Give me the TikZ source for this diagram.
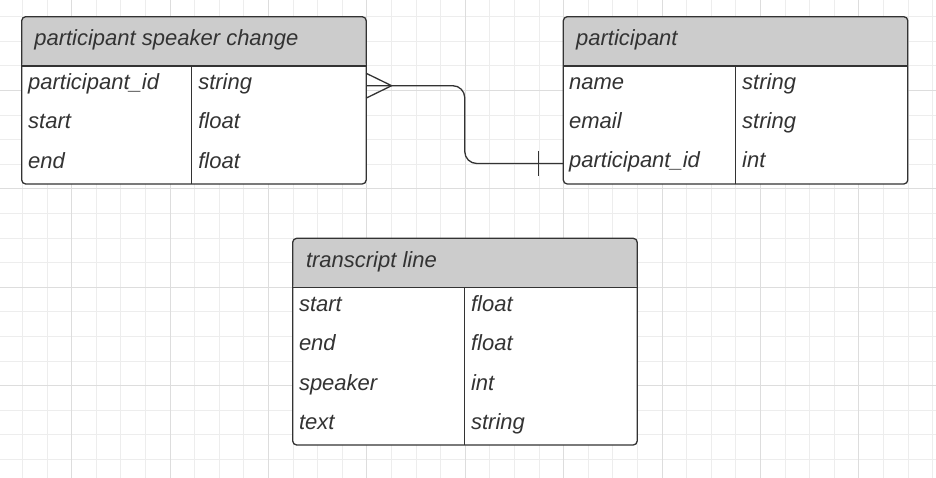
\documentclass[tikz,border=0pt]{standalone}
\usepackage{fontspec}
\setmainfont{Liberation Sans}
\usetikzlibrary{calc}
\definecolor{gridminor}{HTML}{EDEDED}
\definecolor{gridmajor}{HTML}{DDDDDD}
\definecolor{ink}{HTML}{333333}
\definecolor{hdr}{HTML}{CCCCCC}
\tikzset{
  tbl/.style={draw=ink, line width=1.3pt, fill=white, rounded corners=4pt,
    inner sep=0pt, outer sep=0pt, minimum width=344.5pt, anchor=north west,
    path picture={
      \fill[hdr] (path picture bounding box.north west) rectangle ([yshift=-49.3pt]path picture bounding box.north east);
      \draw[ink, line width=1.3pt] ([yshift=-49.3pt]path picture bounding box.north west) -- ([yshift=-49.3pt]path picture bounding box.north east);
    }},
  txt/.style={anchor=base west, inner sep=0pt, outer sep=0pt, text=ink,
    font=\itshape\fontsize{22}{25}\selectfont},
  divider/.style={draw=ink, line width=1.3pt},
  conn/.style={draw=ink, line width=1.3pt},
}
\begin{document}
\begin{tikzpicture}[x=1pt,y=-1pt]
\useasboundingbox (0,0) rectangle (936,478);
\fill[white] (0,0) rectangle (936,478);
% grid
\foreach \i in {0,...,39} \draw[gridminor, line width=1pt] ({-2.1+24.6*\i},0) -- ({-2.1+24.6*\i},478);
\foreach \i in {0,...,20} \draw[gridminor, line width=1pt] (0,{-7.9+24.6*\i}) -- (936,{-7.9+24.6*\i});
\foreach \i in {0,...,10} \draw[gridmajor, line width=1pt] ({-26.7+98.4*\i},0) -- ({-26.7+98.4*\i},478);
\foreach \i in {0,...,5} \draw[gridmajor, line width=1pt] (0,{-7.9+98.4*\i}) -- (936,{-7.9+98.4*\i});

% table 1: participant speaker change
\node[tbl, minimum height=167.3pt] (psc) at (21.7,16.7) {};
\draw[divider] ([xshift=170pt,yshift=-49.3pt]psc.north west) -- ([xshift=170pt]psc.south west);
\node[txt] (psc-h) at ([xshift=12.6pt,yshift=-28.6pt]psc.north west) {participant speaker change};
\foreach \a/\b [count=\i from 0] in {participant\_id/string, start/float, end/float}{
  \node[txt] (psc-a\i) at ([xshift=6.5pt,yshift=-72.9pt-39.3pt*\i]psc.north west) {\a};
  \node[txt] (psc-b\i) at ([xshift=176.6pt,yshift=-72.9pt-39.3pt*\i]psc.north west) {\b};
}

% table 2: participant
\node[tbl, minimum height=167.3pt] (par) at (563.3,16.7) {};
\draw[divider] ([xshift=172.2pt,yshift=-49.3pt]par.north west) -- ([xshift=172.2pt]par.south west);
\node[txt] (par-h) at ([xshift=12.8pt,yshift=-28.9pt]par.north west) {participant};
\foreach \a/\b [count=\i from 0] in {name/string, email/string, participant\_id/int}{
  \node[txt] (par-a\i) at ([xshift=5.8pt,yshift=-72.6pt-39.3pt*\i]par.north west) {\a};
  \node[txt] (par-b\i) at ([xshift=178.9pt,yshift=-72.6pt-39.3pt*\i]par.north west) {\b};
}

% table 3: transcript line
\node[tbl, minimum height=206.7pt] (trl) at (292.7,238.3) {};
\draw[divider] ([xshift=171.8pt,yshift=-49.3pt]trl.north west) -- ([xshift=171.8pt]trl.south west);
\node[txt] (trl-h) at ([xshift=13.3pt,yshift=-28.7pt]trl.north west) {transcript line};
\foreach \a/\b [count=\i from 0] in {start/float, end/float, speaker/int, text/string}{
  \node[txt] (trl-a\i) at ([xshift=6.3pt,yshift=-73.2pt-39.3pt*\i]trl.north west) {\a};
  \node[txt] (trl-b\i) at ([xshift=178.4pt,yshift=-73.2pt-39.3pt*\i]trl.north west) {\b};
}

% connector
\coordinate (A) at ([yshift=-69pt]psc.north east);
\coordinate (B) at ([yshift=-146.8pt]par.north west);
\draw[conn, rounded corners=12pt] (A) -| ($(A)!0.5!(B)$) |- (B);
\draw[conn] ([yshift=12.4pt]A) -- ([xshift=25.4pt]A) -- ([yshift=-12.4pt]A);
\draw[conn] ([xshift=-25pt,yshift=12.5pt]B) -- ([xshift=-25pt,yshift=-12.5pt]B);
\end{tikzpicture}
\end{document}
